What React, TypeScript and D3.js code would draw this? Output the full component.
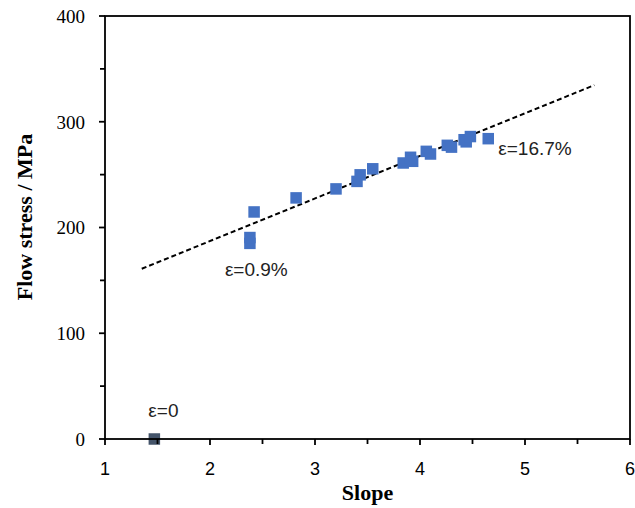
import React from "react";
import * as d3 from "d3";

// ---- data ----
const slopeValues = [1.47, 2.38, 2.38, 2.42, 2.82, 3.2, 3.4, 3.43, 3.55, 3.84, 3.91, 3.93, 4.06, 4.1, 4.26, 4.3, 4.42, 4.44, 4.48, 4.65];
const stressValues = [0, 185, 190.5, 214.7, 228, 236.5, 243.6, 249.8, 255.5, 261, 266.4, 262.6, 272, 269.5, 277.7, 276, 283, 281, 286, 284];
const trendX = [1.35, 5.66];
const trendY = [161, 334.6];
const xTicks = [1, 2, 3, 4, 5, 6];
const xMinorTicks = [1.5, 2.5, 3.5, 4.5, 5.5];
const yTicks = [0, 100, 200, 300, 400];
const yMinorTicks = [50, 150, 250, 350];
const annotations = [
  { label: "ε=0", x: 1.47, y: 0 },
  { label: "ε=0.9%", x: 2.38, y: 185 },
  { label: "ε=16.7%", x: 4.65, y: 284 },
];

const W = 635;
const H = 508;

export default function App() {
  const x = d3.scaleLinear().domain([1, 6]).range([105, 630]);
  const y = d3.scaleLinear().domain([0, 400]).range([439, 16]);
  const line = d3
    .line<number>()
    .x((d) => x(d))
    .y((_, i) => y(trendY[i]));
  const sq = 11.5;
  const serif = "'Liberation Serif', 'Times New Roman', serif";
  const sans = "'Liberation Sans', Arial, sans-serif";
  // annotation offsets (pixel placement relative to the point)
  const annPos = [
    { dx: -6, dy: -22 },
    { dx: -25, dy: 33 },
    { dx: 10, dy: 16 },
  ];
  return (
    <svg
      width={W}
      height={H}
      style={{ position: "absolute", left: 0, top: 0, background: "#fff" }}
    >
      <rect x={0} y={0} width={W} height={H} fill="#fff" />
      {/* trend line */}
      <path
        d={line(trendX) || ""}
        fill="none"
        stroke="#000"
        strokeWidth={2}
        strokeDasharray="5,3"
      />
      {/* points */}
      {slopeValues.map((s, i) => (
        <rect
          key={i}
          x={x(s) - sq / 2}
          y={y(stressValues[i]) - sq / 2}
          width={sq}
          height={sq}
          fill={i === 0 ? "#44546A" : "#4472C4"}
        />
      ))}
      {/* frame */}
      <rect
        x={x(1)}
        y={y(400)}
        width={x(6) - x(1)}
        height={y(0) - y(400)}
        fill="none"
        stroke="#000"
        strokeWidth={1.8}
      />
      {/* x ticks */}
      {xTicks.map((t) => (
        <g key={"xt" + t}>
          <line x1={x(t)} x2={x(t)} y1={y(0)} y2={y(0) + 6} stroke="#000" strokeWidth={1.8} />
          <text
            x={x(t)}
            y={475}
            textAnchor="middle"
            fontFamily={sans}
            fontSize={18}
            fill="#000"
          >
            {t}
          </text>
        </g>
      ))}
      {xMinorTicks.map((t) => (
        <line key={"xm" + t} x1={x(t)} x2={x(t)} y1={y(0)} y2={y(0) + 5} stroke="#000" strokeWidth={1.8} />
      ))}
      {/* y ticks */}
      {yTicks.map((t) => (
        <g key={"yt" + t}>
          <line x1={x(1) - 6} x2={x(1)} y1={y(t)} y2={y(t)} stroke="#000" strokeWidth={1.8} />
          <text
            x={85}
            y={y(t)}
            dy="0.36em"
            textAnchor="end"
            fontFamily={serif}
            fontSize={19}
            fill="#000"
          >
            {t}
          </text>
        </g>
      ))}
      {yMinorTicks.map((t) => (
        <line key={"ym" + t} x1={x(1) - 5} x2={x(1)} y1={y(t)} y2={y(t)} stroke="#000" strokeWidth={1.8} />
      ))}
      {/* annotations */}
      {annotations.map((a, i) => (
        <text
          key={"a" + i}
          x={x(a.x) + annPos[i].dx}
          y={y(a.y) + annPos[i].dy}
          fontFamily={sans}
          fontSize={19}
          fill="#222"
        >
          {a.label}
        </text>
      ))}
      {/* axis titles */}
      <text
        x={(x(1) + x(6)) / 2}
        y={500}
        textAnchor="middle"
        fontFamily={serif}
        fontWeight="bold"
        fontSize={22}
        fill="#000"
      >
        Slope
      </text>
      <text
        transform={`translate(32, 217) rotate(-90)`}
        textAnchor="middle"
        fontFamily={serif}
        fontWeight="bold"
        fontSize={22}
        fill="#000"
      >
        Flow stress / MPa
      </text>
    </svg>
  );
}
